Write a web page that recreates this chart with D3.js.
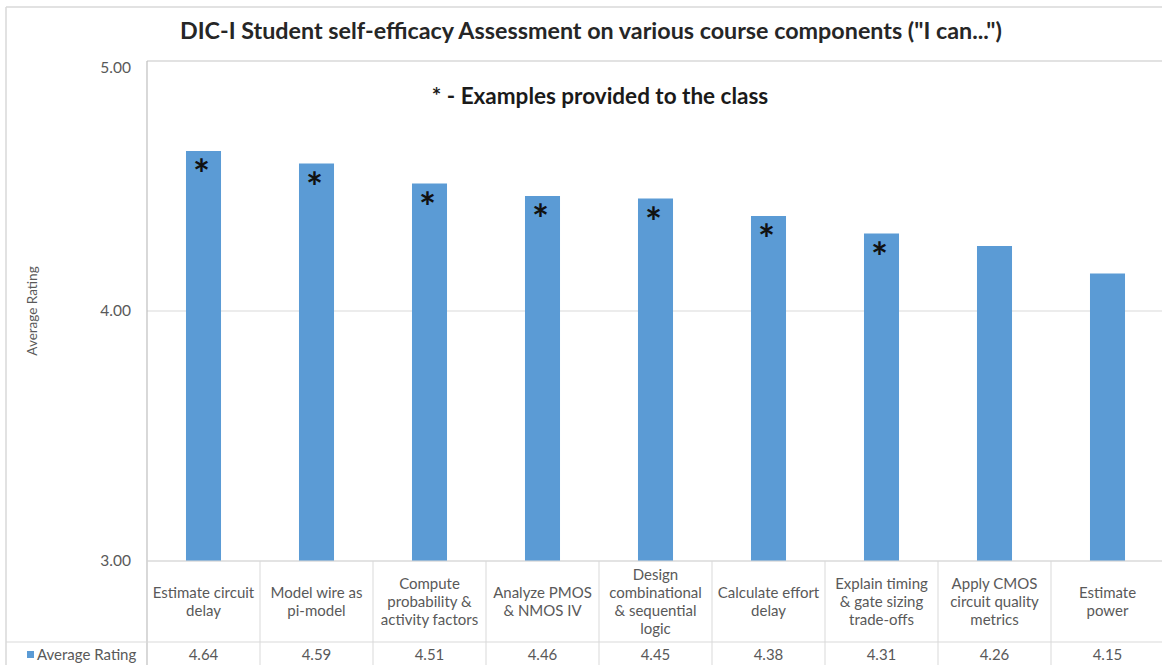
<!DOCTYPE html>
<html>
<head>
<meta charset="utf-8">
<script src="https://cdn.jsdelivr.net/npm/d3@7"></script>
<style>
  body { margin: 0; background: #fff; }
  text { font-family: Lato, "Open Sans", sans-serif; }
</style>
</head>
<body>
<svg id="chart" width="1162" height="665"></svg>
<script>
// Course components (each entry holds the wrapped lines of its table cell)
const categories = [
  ["Estimate circuit", "delay"],
  ["Model wire as", "pi-model"],
  ["Compute", "probability &", "activity factors"],
  ["Analyze PMOS", "& NMOS IV"],
  ["Design", "combinational", "& sequential", "logic"],
  ["Calculate effort", "delay"],
  ["Explain timing", "& gate sizing", "trade-offs"],
  ["Apply CMOS", "circuit quality", "metrics"],
  ["Estimate", "power"]
];
const averageRating = [4.64, 4.59, 4.51, 4.46, 4.45, 4.38, 4.31, 4.26, 4.15];
// Components for which worked examples were given in class
const exampleProvided = [true, true, true, true, true, true, true, false, false];
const yTicks = [3, 4, 5];
const seriesName = "Average Rating";
const titleText = 'DIC-I Student self-efficacy Assessment on various course components ("I can...")';
const noteText = "* - Examples provided to the class";

const W = 1162, H = 665;
const plot = { left: 147, right: 1164, top: 61, bottom: 561 };
const tableSplit = 642;
const gridColor = "#d9d9d9";
const textGray = "#595959";
const barColor = "#5b9bd5";
const tableFont = "15px";

const svg = d3.select("#chart");

const x = d3.scaleBand()
  .domain(d3.range(categories.length))
  .range([plot.left, plot.right])
  .padding(0);
const barWidth = x.bandwidth() * 0.31;

const y = d3.scaleLinear()
  .domain([d3.min(yTicks), d3.max(yTicks)])
  .range([plot.bottom, plot.top]);

// Outer chart frame (top and left edges visible)
svg.append("line").attr("x1", 6).attr("x2", W).attr("y1", 7).attr("y2", 7)
  .attr("stroke", gridColor).attr("stroke-width", 1.5);
svg.append("line").attr("x1", 6).attr("x2", 6).attr("y1", 7).attr("y2", H)
  .attr("stroke", gridColor).attr("stroke-width", 1.5);

// Horizontal gridlines
svg.append("g").selectAll("line")
  .data(yTicks)
  .join("line")
  .attr("x1", plot.left).attr("x2", W)
  .attr("y1", d => y(d)).attr("y2", d => y(d))
  .attr("stroke", gridColor).attr("stroke-width", d => d === 5 ? 1.5 : 1);

// Y axis labels
const yAxis = d3.axisLeft(y).tickValues(yTicks).tickFormat(d3.format(".2f")).tickSize(0).tickPadding(0);
const gy = svg.append("g").attr("transform", `translate(${plot.left - 16},0)`).call(yAxis);
gy.select(".domain").remove();
gy.selectAll("text")
  .attr("fill", textGray)
  .attr("dy", d => d === 5 ? "0.75em" : "0.32em")
  .style("font-family", "Lato, 'Open Sans', sans-serif")
  .style("font-size", "15.5px");

// Y axis title
svg.append("text")
  .attr("transform", `translate(37,${(plot.top + plot.bottom) / 2}) rotate(-90)`)
  .attr("text-anchor", "middle")
  .attr("fill", textGray)
  .style("font-size", "13.5px")
  .text(seriesName);

// Bars
svg.append("g").selectAll("rect")
  .data(averageRating)
  .join("rect")
  .attr("x", (d, i) => x(i) + (x.bandwidth() - barWidth) / 2)
  .attr("y", d => y(d))
  .attr("width", barWidth)
  .attr("height", d => y(y.domain()[0]) - y(d))
  .attr("fill", barColor);

// Asterisks marking components with in-class examples
svg.append("g").selectAll("text")
  .data(averageRating.map((v, i) => ({ v, i })).filter(d => exampleProvided[d.i]))
  .join("text")
  .attr("x", d => x(d.i) + x.bandwidth() / 2 - 2)
  .attr("y", d => y(d.v) + 38)
  .attr("text-anchor", "middle")
  .attr("fill", "#111")
  .style("font-size", "40px")
  .style("font-weight", "bold")
  .text("*");

// Vertical axis line extending through the data table
svg.append("line")
  .attr("x1", plot.left).attr("x2", plot.left)
  .attr("y1", plot.top).attr("y2", H)
  .attr("stroke", "#bfbfbf").attr("stroke-width", 1.2);

// Data table: column separators and row line
svg.append("g").selectAll("line")
  .data(d3.range(1, categories.length + 1))
  .join("line")
  .attr("x1", i => x(i) ?? plot.right).attr("x2", i => x(i) ?? plot.right)
  .attr("y1", plot.bottom).attr("y2", H)
  .attr("stroke", gridColor).attr("stroke-width", 1);
svg.append("line")
  .attr("x1", 6).attr("x2", W).attr("y1", tableSplit).attr("y2", tableSplit)
  .attr("stroke", gridColor).attr("stroke-width", 1);
svg.append("line")
  .attr("x1", plot.left).attr("x2", W).attr("y1", plot.bottom).attr("y2", plot.bottom)
  .attr("stroke", gridColor).attr("stroke-width", 1.2);

// Category labels
const lineH = 18;
const cellMid = (plot.bottom + tableSplit) / 2;
const cats = svg.append("g").selectAll("text")
  .data(categories)
  .join("text")
  .attr("text-anchor", "middle")
  .attr("fill", textGray)
  .style("font-size", tableFont);
cats.selectAll("tspan")
  .data((d, i) => d.map((line, k) => ({ line, k, n: d.length, i })))
  .join("tspan")
  .attr("x", d => x(d.i) + x.bandwidth() / 2)
  .attr("y", d => cellMid + (d.k - (d.n - 1) / 2) * lineH)
  .attr("dy", "0.35em")
  .text(d => d.line);

// Value row
svg.append("g").selectAll("text")
  .data(averageRating)
  .join("text")
  .attr("x", (d, i) => x(i) + x.bandwidth() / 2)
  .attr("y", 655)
  .attr("dy", "0.35em")
  .attr("text-anchor", "middle")
  .attr("fill", textGray)
  .style("font-size", tableFont)
  .text(d => d3.format(".2f")(d));

// Legend key in the table's row header
svg.append("rect").attr("x", 27).attr("y", 651).attr("width", 7).attr("height", 7).attr("fill", barColor);
svg.append("text")
  .attr("x", 37).attr("y", 655).attr("dy", "0.35em")
  .attr("fill", textGray)
  .style("font-size", tableFont)
  .text(seriesName);

// Title and note
svg.append("text")
  .attr("x", 591).attr("y", 39)
  .attr("text-anchor", "middle")
  .attr("fill", "#262626")
  .style("font-size", "23.3px")
  .style("font-weight", "bold")
  .text(titleText);
svg.append("text")
  .attr("x", 600).attr("y", 104)
  .attr("text-anchor", "middle")
  .attr("fill", "#1a1a1a")
  .style("font-size", "22.5px")
  .style("font-weight", "bold")
  .text(noteText);
</script>
</body>
</html>
